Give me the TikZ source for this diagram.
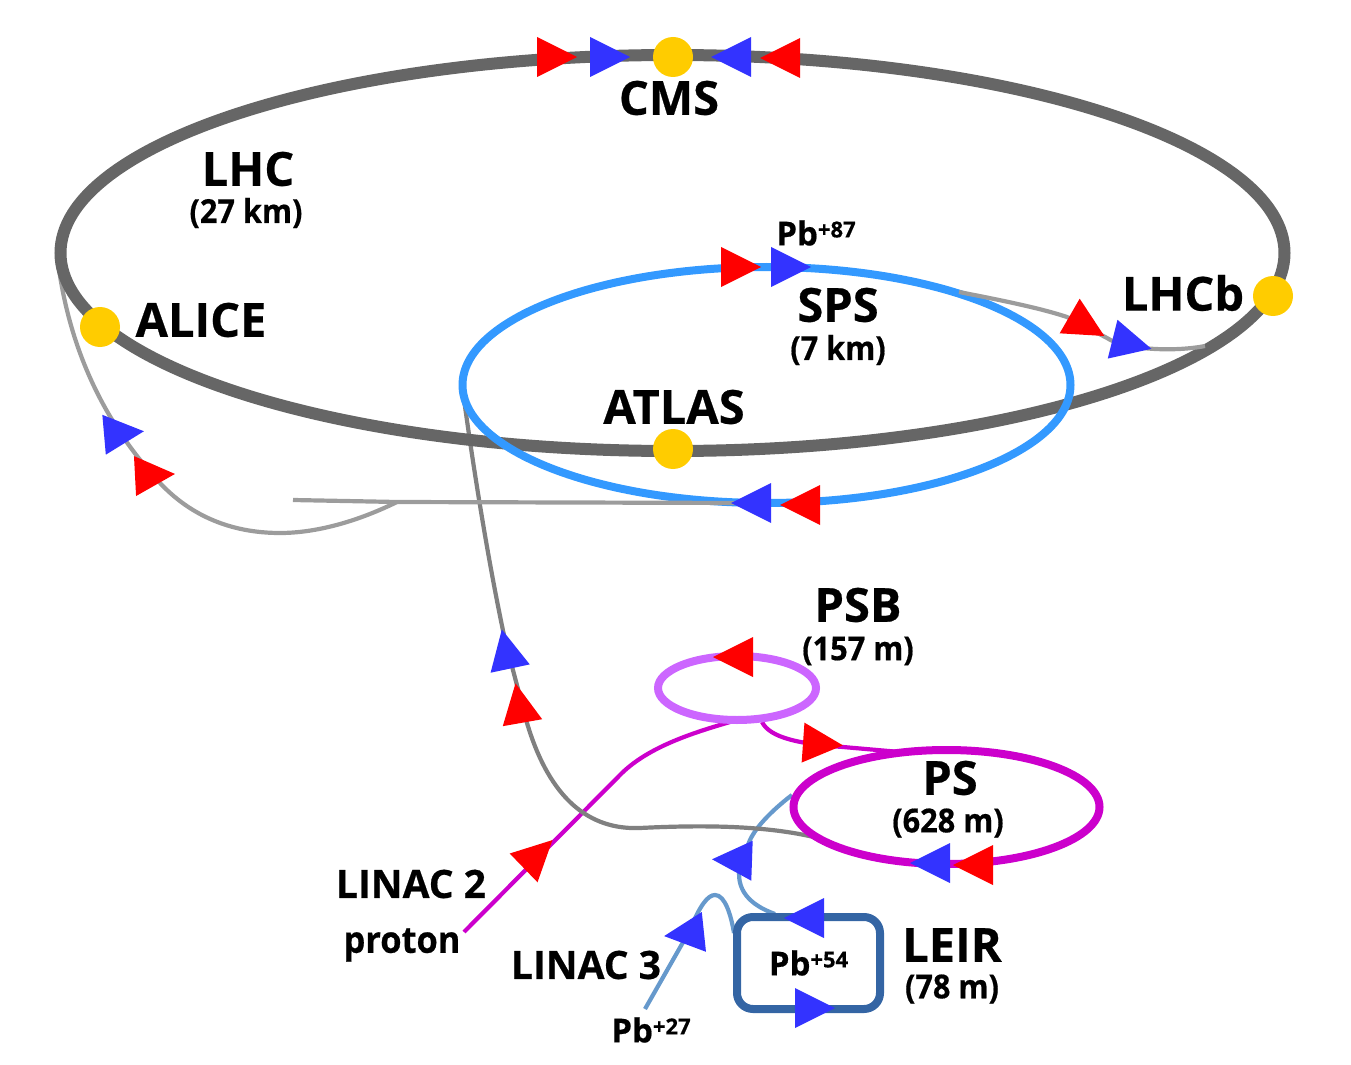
\documentclass[tikz,border=0pt]{standalone}
\usepackage{fontspec}
\setmainfont{Open Sans}[BoldFeatures={FakeBold=0.5}]
\newfontfamily\narrowfont{Open Sans}[FakeStretch=0.93, BoldFeatures={FakeBold=0.5}]
\usetikzlibrary{positioning, shapes.geometric, backgrounds}

\definecolor{lhcgray}{HTML}{666666}
\definecolor{spsblue}{HTML}{3399FF}
\definecolor{psbviolet}{HTML}{CC66FF}
\definecolor{psmagenta}{HTML}{CC00CC}
\definecolor{leirblue}{HTML}{3465A4}
\definecolor{ionblue}{HTML}{6699CC}
\definecolor{beamblue}{HTML}{3333FF}
\definecolor{expyellow}{HTML}{FFCC00}

\newcommand{\charge}[1]{\raisebox{4pt}{\fontsize{11}{12}\selectfont #1}}

\begin{document}
\begin{tikzpicture}[
    x=0.5pt, y=-0.5pt,
    ring/.style={ellipse, draw, inner sep=0pt, outer sep=0pt},
    expt/.style={circle, fill=expyellow, inner sep=0pt, outer sep=0pt, minimum size=20pt},
    title/.style={font=\fontsize{23.5}{25}\selectfont\bfseries, inner sep=0pt},
    sizetext/.style={font=\narrowfont\fontsize{16.5}{18}\selectfont\bfseries, inner sep=0pt},
    pbtext/.style={font=\fontsize{16.5}{18}\selectfont\bfseries, inner sep=0pt},
    linactext/.style={font=\fontsize{19.5}{21}\selectfont\bfseries, inner sep=0pt},
    line/.style={line width=2.1pt},
    beam/.pic={\fill[pic actions] (-20,-20) -- (20,0) -- (-20,20) -- cycle;},
    pb/.style={fill=red},
    ion/.style={fill=beamblue}
]
\useasboundingbox (0,0) rectangle (1351,1065);

% Rings
\node[ring, draw=lhcgray, line width=6pt, minimum width=612pt, minimum height=198pt] (lhc) at (672.5,253) {};
\node[ring, draw=spsblue, line width=4pt, minimum width=304pt, minimum height=118pt] (sps) at (766.5,385) {};
\node[ring, draw=psbviolet, line width=4pt, minimum width=79pt, minimum height=32pt] (psb) at (737,688) {};
\node[ring, draw=psmagenta, line width=4pt, minimum width=153pt, minimum height=57pt] (ps) at (946.5,807) {};
\node[pbtext, draw=leirblue, line width=4pt, rounded corners=8pt, minimum width=71.5pt, minimum height=46pt, outer sep=0pt] (leir) at (808.5,963) {Pb\charge{+54}};

% Free ends of the transfer lines
\coordinate (linacstart) at (464,932);
\coordinate (ionstart) at (645,1009);
\coordinate (dumpend) at (293,500);
\coordinate (branch) at (397,502);
\coordinate (lhcleft) at (58,262);
\coordinate (lhcright) at (1205,346);
\coordinate (spsright) at (959,292);
\coordinate (spsleft) at (463,392);
\coordinate (spslow) at (745,503);
\coordinate (psleft) at (792,795);
\coordinate (pslow) at (818,838);
\coordinate (pstop) at (900,752);
\coordinate (leirtop) at (775,914);
\coordinate (leirleft) at (734,933);
\coordinate (psbout) at (762,722);

% Transfer lines
\begin{scope}[on background layer]
\draw[line, draw=psmagenta] (linacstart) -- (622,773) .. controls (650,746) and (695,732) .. (psb.south);
\draw[line, draw=psmagenta] (psbout) .. controls (770,738) and (800,744) .. (843,747) -- (pstop);
\draw[line, draw=ionblue] (ionstart) -- (690,930) .. controls (700,905) and (708,895) .. (715,895) .. controls (725,895) and (731,915) .. (leirleft);
\draw[line, draw=ionblue] (leirtop) .. controls (750,905) and (735,890) .. (740,865) -- (750,840) .. controls (757,825) and (775,808) .. (psleft);
\draw[line, draw=gray] (pslow) .. controls (765,825) and (700,825) .. (640,828) .. controls (590,830) and (550,800) .. (527,723) -- (505,640) .. controls (490,570) and (475,480) .. (spsleft);
\draw[line, draw=lhcgray!65] (branch) .. controls (350,525) and (310,533) .. (280,533) .. controls (230,533) and (190,515) .. (160,483) .. controls (120,440) and (72,370) .. (lhcleft);
\end{scope}
\draw[line, draw=lhcgray!65] (spslow) -- (branch) -- (dumpend);
\draw[line, draw=lhcgray!65] (spsright) .. controls (1000,300) and (1040,308) .. (1067,317) -- (1107,338) .. controls (1125,350) and (1175,352) .. (lhcright);

% Beams at CMS
\pic[pb] at (557,57) {beam};
\pic[ion] at (610,57) {beam};
\pic[ion, rotate=180] at (731,57) {beam};
\pic[pb, rotate=180] at (780,58) {beam};

% Beams at LHCb
\pic[pb, rotate=-30] at (1087,326) {beam};
\pic[ion, rotate=-14] at (1132,344) {beam};

% Beams at ALICE
\pic[ion, rotate=5] at (124,433) {beam};
\pic[pb, rotate=3] at (155,475) {beam};

% Beams in the SPS
\pic[pb] at (741,267) {beam};
\pic[ion] at (791,267) {beam};
\pic[ion, rotate=180] at (751,503) {beam};
\pic[pb, rotate=180] at (800,505) {beam};

% Beams to the SPS
\pic[ion, rotate=102] at (506,649) {beam};
\pic[pb, rotate=100] at (519,703) {beam};

% Beams in the injectors
\pic[pb, rotate=180] at (733,657) {beam};
\pic[pb, rotate=-4] at (823,744) {beam};
\pic[pb, rotate=44] at (538,854) {beam};
\pic[ion, rotate=178] at (732,860) {beam};
\pic[ion, rotate=180] at (930,863) {beam};
\pic[pb, rotate=180] at (973,865) {beam};
\pic[ion, rotate=180] at (804,918) {beam};
\pic[ion] at (815,1008) {beam};
\pic[ion, rotate=186] at (684,934) {beam};

% Experiments
\node[expt] (cms) at (673,57) {};
\node[expt] (alice) at (100,327) {};
\node[expt] (atlas) at (673,449) {};
\node[expt] (lhcb) at (1273,296) {};

% Labels
\node[title] (cmstext) at (669,98) {CMS};
\node[title] (lhctext) at (248,169) {LHC};
\node[sizetext] (lhcsize) at (246,213) {(27 km)};
\node[title] (alicetext) at (201,320) {ALICE};
\node[title] (atlastext) at (674,407) {ATLAS};
\node[title] (lhcbtext) at (1183,293) {LHCb};
\node[title] (spstext) at (838,305) {SPS};
\node[sizetext] (spssize) at (838,350) {(7 km)};
\node[pbtext] (pbtop) at (816,233) {Pb\charge{+87}};
\node[title] (psbtext) at (858,605) {PSB};
\node[sizetext] (psbsize) at (858,651) {(157 m)};
\node[title] (pstext) at (950,778) {PS};
\node[sizetext] (pssize) at (948,823) {(628 m)};
\node[title] (leirtext) at (952,945) {LEIR};
\node[sizetext] (leirsize) at (952,989) {(78 m)};
\node[linactext] (linacb) at (411,884) {LINAC 2};
\node[font=\narrowfont\fontsize{18.5}{20}\selectfont\bfseries, inner sep=0pt] (protontext) at (402,945) {proton};
\node[linactext] (linacc) at (586,965) {LINAC 3};
\node[pbtext] (pbstart) at (651,1030) {Pb\charge{+27}};

\end{tikzpicture}
\end{document}
